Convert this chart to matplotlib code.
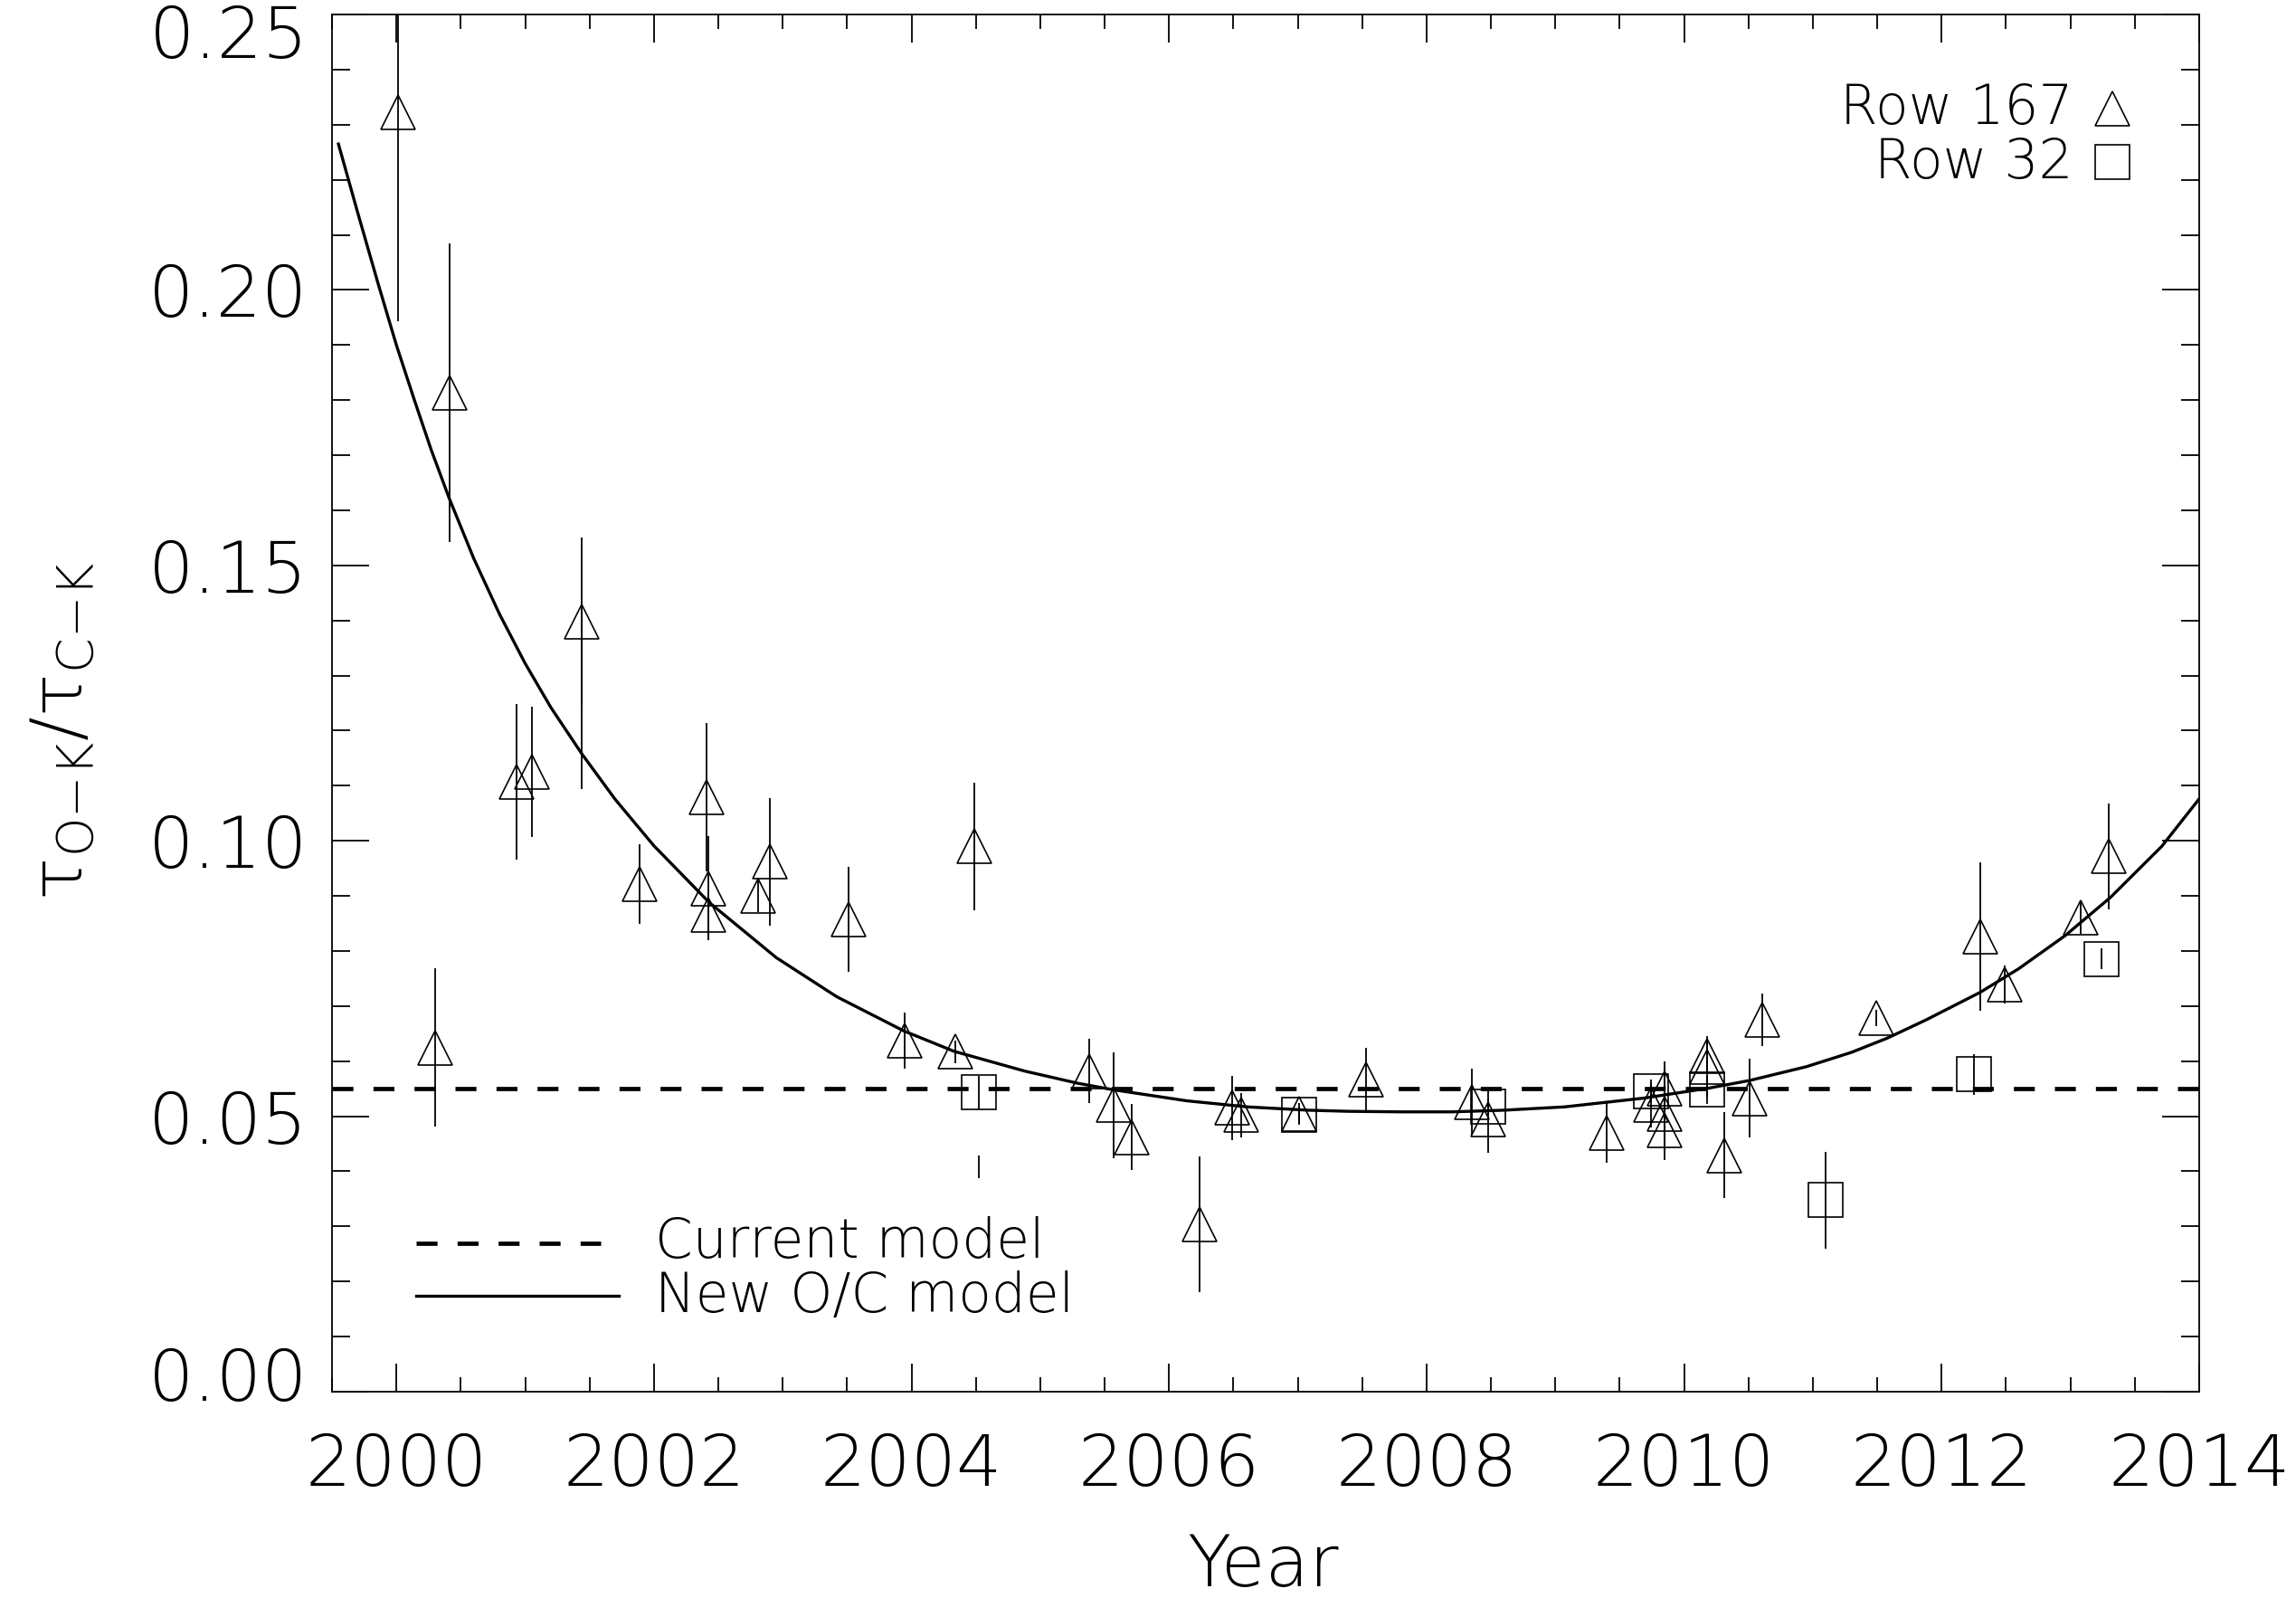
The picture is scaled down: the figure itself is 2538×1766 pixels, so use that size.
import matplotlib
matplotlib.use("Agg")
import matplotlib.pyplot as plt
from matplotlib import font_manager as fm
from matplotlib.ticker import MultipleLocator, FormatStrFormatter
from matplotlib.transforms import ScaledTranslation

# Row 167 measurements (triangles)
row167_year = [2000.01, 2000.30, 2000.41, 2000.93, 2001.05, 2001.44, 2001.89,
               2002.41, 2002.42, 2002.42, 2002.81, 2002.90, 2003.51, 2003.95,
               2004.34, 2004.49, 2005.38, 2005.57, 2005.71, 2006.24, 2006.49,
               2006.56, 2007.01, 2007.53, 2008.35, 2008.48, 2009.40, 2009.74,
               2009.85, 2009.85, 2009.85, 2010.18, 2010.18, 2010.31, 2010.51,
               2010.61, 2011.49, 2012.30, 2012.49, 2013.08, 2013.30]
row167_val = [0.2323, 0.0625, 0.1813, 0.1107, 0.1125, 0.1398, 0.0921,
              0.1079, 0.0914, 0.0865, 0.0901, 0.0962, 0.0857, 0.0638,
              0.0617, 0.0990, 0.0582, 0.0520, 0.0462, 0.0304, 0.0515,
              0.0502, 0.0504, 0.0566, 0.0526, 0.0494, 0.0470, 0.0520,
              0.0550, 0.0505, 0.0475, 0.0610, 0.0590, 0.0429, 0.0533,
              0.0675, 0.0679, 0.0826, 0.0739, 0.0861, 0.0972]
row167_err = [0.0380, 0.0143, 0.0271, 0.0141, 0.0118, 0.0153, 0.0072,
              0.0135, 0.0095, 0.0040, 0.0030, 0.0116, 0.0095, 0.0051,
              0.0020, 0.0116, 0.0058, 0.0096, 0.0060, 0.0123, 0.0058,
              0.0040, 0.0020, 0.0058, 0.0060, 0.0060, 0.0055, 0.0040,
              0.0050, 0.0085, 0.0040, 0.0030, 0.0055, 0.0078, 0.0072,
              0.0047, 0.0015, 0.0135, 0.0035, 0.0030, 0.0096]

# Row 32 measurements (squares)
row32_year = [2004.52, 2007.01, 2008.48, 2009.74, 2010.18, 2011.10, 2012.25, 2013.24]
row32_val = [0.0543, 0.0503, 0.0518, 0.0546, 0.0548, 0.0348, 0.0576, 0.0786]
row32_err = [0.0030, 0.0015, 0.0015, 0.0020, 0.0025, 0.0088, 0.0037, 0.0019]

# points drawn with error bar only
bare_year = [2001.44, 2004.52]
bare_val = [0.1257, 0.0408]
bare_err = [0.0163, 0.0020]

# models
current_model = 0.055
curve_year = [1999.55, 1999.70, 1999.86, 2000.00, 2000.14, 2000.27, 2000.41,
              2000.60, 2000.80, 2001.00, 2001.20, 2001.44, 2001.70, 2002.00,
              2002.43, 2002.95, 2003.42, 2003.94, 2004.33, 2004.88, 2005.29,
              2005.57, 2006.14, 2006.61, 2007.08, 2007.39, 2007.80, 2008.20,
              2008.60, 2009.07, 2009.69, 2010.19, 2010.51, 2010.95, 2011.30,
              2011.58, 2011.88, 2012.30, 2012.60, 2012.96, 2013.31, 2013.71,
              2014.00]
curve_val = [0.2265, 0.2140, 0.2010, 0.1900, 0.1800, 0.1710, 0.1622,
             0.1513, 0.1412, 0.1322, 0.1242, 0.1158, 0.1075, 0.0991,
             0.0888, 0.0788, 0.0717, 0.0655, 0.0618, 0.0582, 0.0560,
             0.0548, 0.0528, 0.0517, 0.0511, 0.0509, 0.0508, 0.0508,
             0.0511, 0.0517, 0.0533, 0.0551, 0.0565, 0.0590, 0.0616,
             0.0642, 0.0675, 0.0725, 0.0768, 0.0828, 0.0897, 0.0990,
             0.1076]


def has_light_face(name):
    for f in fm.fontManager.ttflist:
        if f.name == name:
            w = f.weight if isinstance(f.weight, int) else fm.weight_dict.get(f.weight, 400)
            if w <= 300:
                return True
    return False


# thin face, close to the plotting font of the original
if has_light_face("DejaVu Sans"):
    fam, big, small = "DejaVu Sans", 57, 43
else:
    fam, big, small = "Roboto", 58, 46

plt.rcParams["font.family"] = [fam, "DejaVu Sans"]
plt.rcParams["font.weight"] = "light"
plt.rcParams["mathtext.fontset"] = "custom"
plt.rcParams["mathtext.rm"] = fam + ":light"
plt.rcParams["mathtext.it"] = fam + ":light"

fig = plt.figure(figsize=(25.38, 17.66), dpi=100)
ax = fig.add_axes([0.1446, 0.1291, 0.8132, 0.8618])

ms = 27
ax.errorbar(row167_year, row167_val, yerr=row167_err, fmt="^", ms=ms,
            mfc="none", mec="k", mew=1.2, ecolor="k", elinewidth=1.3, capsize=0)
ax.errorbar(row32_year, row32_val, yerr=row32_err, fmt="s", ms=ms,
            mfc="none", mec="k", mew=1.2, ecolor="k", elinewidth=1.3, capsize=0)
ax.errorbar(bare_year, bare_val, yerr=bare_err, fmt="none",
            ecolor="k", elinewidth=1.3, capsize=0)

lw_dash = 3.4
ax.axhline(current_model, color="k", lw=lw_dash, dashes=(4.9, 4.7))
ax.plot(curve_year, curve_val, color="k", lw=2.4, solid_joinstyle="round")

ax.set_xlim(1999.5, 2014)
ax.set_ylim(0, 0.25)
ax.xaxis.set_major_locator(MultipleLocator(2))
ax.xaxis.set_minor_locator(MultipleLocator(0.5))
ax.yaxis.set_major_locator(MultipleLocator(0.05))
ax.yaxis.set_minor_locator(MultipleLocator(0.01))
ax.yaxis.set_major_formatter(FormatStrFormatter("%.2f"))

ax.tick_params(axis="both", which="both", direction="in", top=True, right=True,
               width=1.3, colors="k", labelsize=big)
ax.tick_params(axis="x", which="major", length=22.3, pad=32)
ax.tick_params(axis="x", which="minor", length=11.5)
ax.tick_params(axis="y", which="major", length=29.5, pad=19)
ax.tick_params(axis="y", which="minor", length=14.4)
for sp in ax.spines.values():
    sp.set_linewidth(1.3)

# keep the end labels of the y axis inside the frame
fig.canvas.draw()
for t in ax.yaxis.get_major_ticks():
    if abs(t.get_loc() - 0.25) < 1e-6:
        t.label1.set_transform(t.label1.get_transform()
                               + ScaledTranslation(0, -0.18, fig.dpi_scale_trans))
    if abs(t.get_loc()) < 1e-6:
        t.label1.set_transform(t.label1.get_transform()
                               + ScaledTranslation(0, 0.2, fig.dpi_scale_trans))

fig.text(70 / 2538, 1 - 808 / 1766, r"$\mathrm{\tau_{O{-}K}/\tau_{C{-}K}}$",
         rotation=90, ha="center", va="center", fontsize=big)
fig.text(1396 / 2538, 1 - 1731 / 1766, "Year", ha="center", va="center", fontsize=big)

# legend for the models, lower left
ax.plot([0.0451, 0.1439], [0.1078, 0.1078], transform=ax.transAxes,
        color="k", lw=lw_dash, dashes=(4.9, 4.7))
ax.plot([0.0451, 0.1536], [0.0696, 0.0696], transform=ax.transAxes,
        color="k", lw=2.4)
ax.text(0.173, 0.0972, "Current model", transform=ax.transAxes,
        fontsize=small, va="baseline")
ax.text(0.173, 0.0578, "New O/C model", transform=ax.transAxes,
        fontsize=small, va="baseline")

# legend for the rows, upper right
ax.text(0.9327, 0.9205, "Row 167", transform=ax.transAxes, fontsize=small,
        ha="right", va="baseline")
ax.text(0.9327, 0.8811, "Row 32", transform=ax.transAxes, fontsize=small,
        ha="right", va="baseline")
ax.plot([0.9535], [0.9317], "^", transform=ax.transAxes, ms=ms,
        mfc="none", mec="k", mew=1.2, clip_on=False)
ax.plot([0.9537], [0.8929], "s", transform=ax.transAxes, ms=ms,
        mfc="none", mec="k", mew=1.2, clip_on=False)

fig.savefig("out.png", dpi=100)
